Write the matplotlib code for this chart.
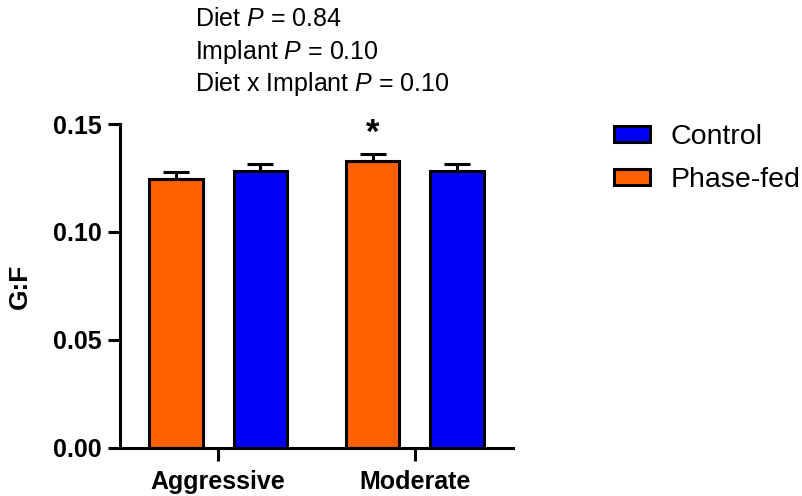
import matplotlib
matplotlib.use("Agg")
import matplotlib.pyplot as plt
import numpy as np
from matplotlib.patches import Patch

plt.rcParams["font.family"] = ["Liberation Sans", "DejaVu Sans"]
plt.rcParams["mathtext.fontset"] = "custom"
plt.rcParams["mathtext.rm"] = "Liberation Sans"
plt.rcParams["mathtext.it"] = "Liberation Sans:italic"

# G:F by implant strategy and diet
groups = ["Aggressive", "Moderate"]
phase_fed = [0.1244, 0.1330]
phase_fed_sem = [0.0032, 0.0032]
control = [0.1282, 0.1282]
control_sem = [0.0033, 0.0033]
stats_lines = [
    r"Diet $P$ = 0.84",
    r"Implant $P$ = 0.10",
    r"Diet x Implant $P$ = 0.10",
]
significant = [False, True]

ORANGE = "#ff6100"
BLUE = "#0000f5"

fig = plt.figure(figsize=(8.03, 4.96), dpi=100)
ax = fig.add_axes([0.1494, 0.0968, 0.4895, 0.6532])

x = np.arange(len(groups))
offset = 0.215
width = 0.27
err_kw = dict(ecolor="black", elinewidth=2.2, capsize=9.5, capthick=2.2)

ax.bar(x - offset, phase_fed, width, color=ORANGE, edgecolor="black",
       linewidth=2.2, yerr=[np.zeros(2), phase_fed_sem], error_kw=err_kw, zorder=2)
ax.bar(x + offset, control, width, color=BLUE, edgecolor="black",
       linewidth=2.2, yerr=[np.zeros(2), control_sem], error_kw=err_kw, zorder=2)

for i, sig in enumerate(significant):
    if sig:
        ax.text(x[i] - offset, phase_fed[i] + phase_fed_sem[i] + 0.0095, "*",
                ha="center", va="center", fontsize=25, fontweight="bold")

ax.set_xlim(-0.5, 1.5)
ax.set_ylim(0, 0.15)
ax.set_yticks([0.0, 0.05, 0.10, 0.15])
ax.set_yticklabels(["0.00", "0.05", "0.10", "0.15"])
ax.set_xticks(x)
ax.set_xticklabels(groups)
for lab in ax.get_xticklabels() + ax.get_yticklabels():
    lab.set_fontweight("bold")
ax.tick_params(axis="both", width=2.2, length=9, labelsize=18, color="black")
ax.tick_params(axis="y", pad=4)
ax.tick_params(axis="x", pad=7)

for side in ["top", "right"]:
    ax.spines[side].set_visible(False)
for side in ["left", "bottom"]:
    ax.spines[side].set_linewidth(2.2)

ax.set_ylabel("G:F", fontsize=19, fontweight="bold", labelpad=15)

for k, line in enumerate(stats_lines):
    fig.text(195 / 803, 1 - (26 + 32.5 * k) / 496, line, fontsize=18,
             ha="left", va="baseline")

handles = [
    Patch(facecolor=BLUE, edgecolor="black", linewidth=2.2, label="Control"),
    Patch(facecolor=ORANGE, edgecolor="black", linewidth=2.2, label="Phase-fed"),
]
fig.legend(handles=handles, loc="upper left", bbox_to_anchor=(614 / 803, 1 - 124 / 496),
           frameon=False, fontsize=20.5, handlelength=1.25, handleheight=0.5,
           handletextpad=0.75, labelspacing=0.6, borderaxespad=0, borderpad=0)

fig.savefig("out.png", dpi=100)
